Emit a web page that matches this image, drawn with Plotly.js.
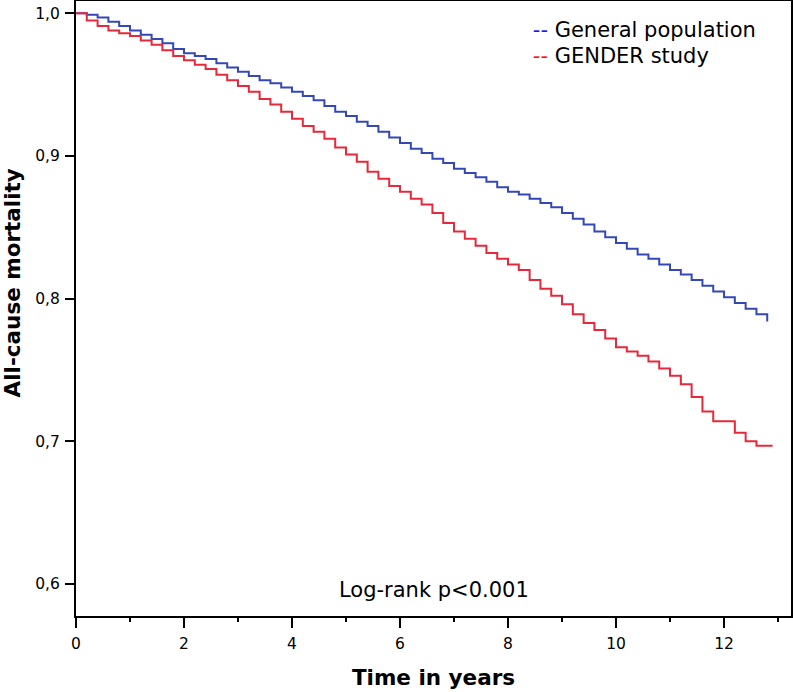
<!DOCTYPE html>
<html>
<head>
<meta charset="utf-8">
<script src="https://cdn.plot.ly/plotly-3.0.1.min.js"></script>
<style>html,body{margin:0;padding:0;background:#fff;}</style>
</head>
<body>
<div id="chart" style="width:793px;height:692px;"></div>
<script>
// Time (years) at which the survival estimates were read
var timeGeneral = [0,0.2,0.4,0.6,0.8,1.0,1.2,1.4,1.6,1.8,2.0,2.2,2.4,2.6,2.8,3.0,3.2,3.4,3.6,3.8,4.0,4.2,4.4,4.6,4.8,5.0,5.2,5.4,5.6,5.8,6.0,6.2,6.4,6.6,6.8,7.0,7.2,7.4,7.6,7.8,8.0,8.2,8.4,8.6,8.8,9.0,9.2,9.4,9.6,9.8,10.0,10.2,10.4,10.6,10.8,11.0,11.2,11.4,11.6,11.8,12.0,12.2,12.4,12.6,12.8];
var survGeneral = [1.000,0.999,0.997,0.994,0.991,0.988,0.985,0.982,0.979,0.975,0.972,0.970,0.968,0.965,0.962,0.959,0.956,0.953,0.951,0.948,0.945,0.942,0.939,0.935,0.931,0.928,0.924,0.921,0.917,0.913,0.909,0.905,0.902,0.898,0.895,0.891,0.888,0.885,0.882,0.878,0.875,0.873,0.870,0.867,0.864,0.860,0.856,0.852,0.847,0.843,0.839,0.835,0.831,0.828,0.824,0.820,0.817,0.813,0.809,0.805,0.801,0.797,0.793,0.789,0.784];

var timeGender = [0,0.2,0.4,0.6,0.8,1.0,1.2,1.4,1.6,1.8,2.0,2.2,2.4,2.6,2.8,3.0,3.2,3.4,3.6,3.8,4.0,4.2,4.4,4.6,4.8,5.0,5.2,5.4,5.6,5.8,6.0,6.2,6.4,6.6,6.8,7.0,7.2,7.4,7.6,7.8,8.0,8.2,8.4,8.6,8.8,9.0,9.2,9.4,9.6,9.8,10.0,10.2,10.4,10.6,10.8,11.0,11.2,11.4,11.6,11.8,12.0,12.2,12.4,12.6,12.8,12.9];
var survGender = [1.000,0.995,0.991,0.988,0.986,0.984,0.981,0.978,0.974,0.970,0.967,0.964,0.961,0.957,0.953,0.949,0.945,0.940,0.936,0.931,0.926,0.921,0.917,0.912,0.906,0.901,0.896,0.889,0.884,0.879,0.875,0.870,0.866,0.860,0.853,0.847,0.842,0.837,0.832,0.828,0.824,0.820,0.813,0.807,0.802,0.796,0.789,0.783,0.778,0.772,0.766,0.763,0.760,0.756,0.751,0.746,0.740,0.731,0.721,0.714,0.714,0.706,0.700,0.697,0.697,0.697];

var seriesNames = ['General population', 'GENDER study'];
var xTickVals = [0,2,4,6,8,10,12];
var yTickVals = [0.6,0.7,0.8,0.9,1.0];
var yTickText = ['0,6','0,7','0,8','0,9','1,0'];
var xTitle = 'Time in years';
var yTitle = 'All-cause mortality';
var noteText = 'Log-rank p<0.001';

var blue = '#3447b8', red = '#e8283a';
var fontFam = 'DejaVu Sans, Arial, sans-serif';
var legendFont = {family: fontFam, size: 21, color: '#000'};

var traces = [
  {x: timeGeneral, y: survGeneral, mode: 'lines', line: {shape: 'hv', color: blue, width: 2}, showlegend: false, hoverinfo: 'skip'},
  {x: timeGender, y: survGender, mode: 'lines', line: {shape: 'hv', color: red, width: 2}, showlegend: false, hoverinfo: 'skip'},
  {x: [null], y: [null], mode: 'lines', line: {width: 0, color: blue}, legend: 'legend',
   name: '<span style="color:#1a1aff">--</span> ' + seriesNames[0]},
  {x: [null], y: [null], mode: 'lines', line: {width: 0, color: red}, legend: 'legend2',
   name: '<span style="color:#ff1a1a">--</span> ' + seriesNames[1]}
];

var layout = {
  width: 793, height: 692,
  margin: {l: 76, r: 2, t: 1, b: 76, pad: 0},
  paper_bgcolor: '#fff', plot_bgcolor: '#fff',
  font: {family: fontFam, color: '#000'},
  showlegend: true,
  legend: {x: 0.583, xanchor: 'left', y: 0.9883, yanchor: 'top', bgcolor: 'rgba(0,0,0,0)', borderwidth: 0,
           font: legendFont, itemwidth: 30},
  legend2: {x: 0.583, xanchor: 'left', y: 0.945, yanchor: 'top', bgcolor: 'rgba(0,0,0,0)', borderwidth: 0,
           font: legendFont, itemwidth: 30},
  xaxis: {
    range: [0, 13.24], tickmode: 'array', tickvals: xTickVals, ticks: 'outside', ticklen: 10, tickwidth: 2,
    tickcolor: '#000', showline: true, linecolor: '#000', linewidth: 2, mirror: true,
    showgrid: false, zeroline: false, tickfont: {family: fontFam, size: 15.5, color: '#000'},
    ticklabelstandoff: 2,
    minor: {dtick: 1, tick0: 1, ticks: 'outside', ticklen: 4, tickwidth: 2, tickcolor: '#000', showgrid: false},
    title: {text: xTitle, font: {family: fontFam, size: 21.5, weight: 'bold', color: '#000'}, standoff: 18}
  },
  yaxis: {
    range: [0.5776, 1.0086], tickmode: 'array', tickvals: yTickVals, ticktext: yTickText, ticks: 'outside',
    ticklen: 9, tickwidth: 2, tickcolor: '#000', showline: true, linecolor: '#000', linewidth: 2, mirror: true,
    showgrid: false, zeroline: false, tickfont: {family: fontFam, size: 15.5, color: '#000'},
    ticklabelstandoff: 2,
    title: {text: ''}
  },
  annotations: [
    {xref: 'paper', yref: 'paper', x: 0.501, y: 0.0415, xanchor: 'center', yanchor: 'middle', showarrow: false,
     text: noteText, font: {family: fontFam, size: 21, color: '#000'}},
    {xref: 'paper', yref: 'paper', x: -0.0888, y: 0.5415, xanchor: 'center', yanchor: 'middle', showarrow: false,
     textangle: -90, text: yTitle, font: {family: fontFam, size: 21.5, weight: 'bold', color: '#000'}}
  ]
};

Plotly.newPlot('chart', traces, layout, {displayModeBar: false, staticPlot: true});
</script>
</body>
</html>
